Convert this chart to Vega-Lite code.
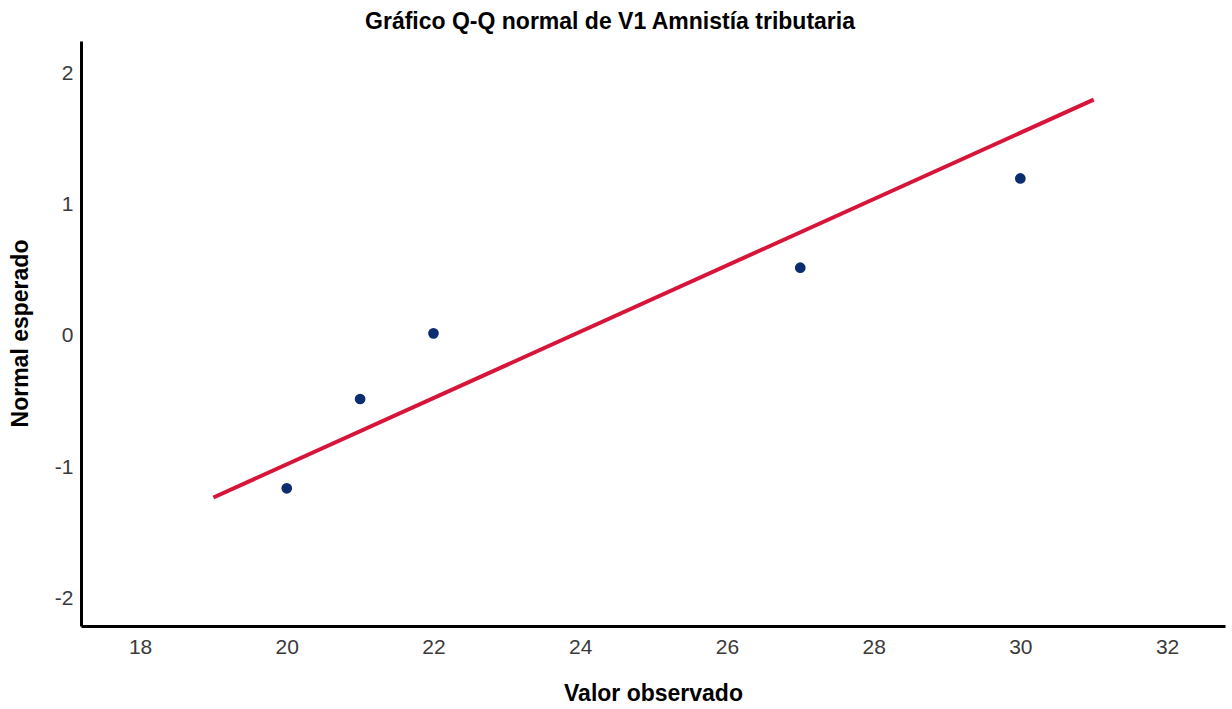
{
  "$schema": "https://vega.github.io/schema/vega-lite/v6.json",
  "autosize": {"type": "none"},
  "width": 1144,
  "height": 585,
  "padding": {"left": 81, "top": 41, "right": 7, "bottom": 83},
  "background": "white",
  "title": {
    "text": "Gráfico Q-Q normal de V1 Amnistía tributaria",
    "font": "Liberation Sans",
    "fontSize": 23,
    "fontWeight": "bold",
    "color": "#000000",
    "anchor": "middle",
    "dx": -43,
    "offset": 7
  },
  "config": {
    "view": {"stroke": null},
    "axis": {
      "domainColor": "#000000",
      "domainWidth": 3,
      "ticks": false,
      "grid": false,
      "labelFont": "Liberation Sans",
      "labelFontSize": 21,
      "labelColor": "#3a3a3a",
      "titleFont": "Liberation Sans",
      "titleFontSize": 23,
      "titleFontWeight": "bold",
      "titleColor": "#000000"
    }
  },
  "datasets": {
    "points": [
      {"observado": 20, "esperado": -1.16},
      {"observado": 21, "esperado": -0.48},
      {"observado": 22, "esperado": 0.02},
      {"observado": 27, "esperado": 0.52},
      {"observado": 30, "esperado": 1.20}
    ],
    "linea": [
      {"observado": 19, "esperado": -1.23},
      {"observado": 31, "esperado": 1.80}
    ]
  },
  "layer": [
    {
      "data": {"name": "linea"},
      "mark": {"type": "line", "color": "#D7153A", "strokeWidth": 4},
      "encoding": {
        "x": {"field": "observado", "type": "quantitative", "scale": {"domain": [17.195, 32.79], "nice": false, "zero": false},
          "axis": {"title": "Valor observado", "values": [18, 20, 22, 24, 26, 28, 30, 32], "labelExpr": "'' + datum.value", "labelPadding": 10, "titleY": 67, "titleBaseline": "middle"}},
        "y": {"field": "esperado", "type": "quantitative", "scale": {"domain": [-2.209, 2.247], "nice": false, "zero": false},
          "axis": {"title": "Normal esperado", "values": [-2, -1, 0, 1, 2], "labelExpr": "'' + datum.value", "labelPadding": 8, "titleX": -61, "titleY": 292, "titleBaseline": "middle", "titleAngle": -90}}
      }
    },
    {
      "data": {"name": "points"},
      "mark": {"type": "point", "filled": true, "shape": "circle", "color": "#0B2C6F", "opacity": 1, "size": 115},
      "encoding": {
        "x": {"field": "observado", "type": "quantitative"},
        "y": {"field": "esperado", "type": "quantitative"}
      }
    }
  ]
}
